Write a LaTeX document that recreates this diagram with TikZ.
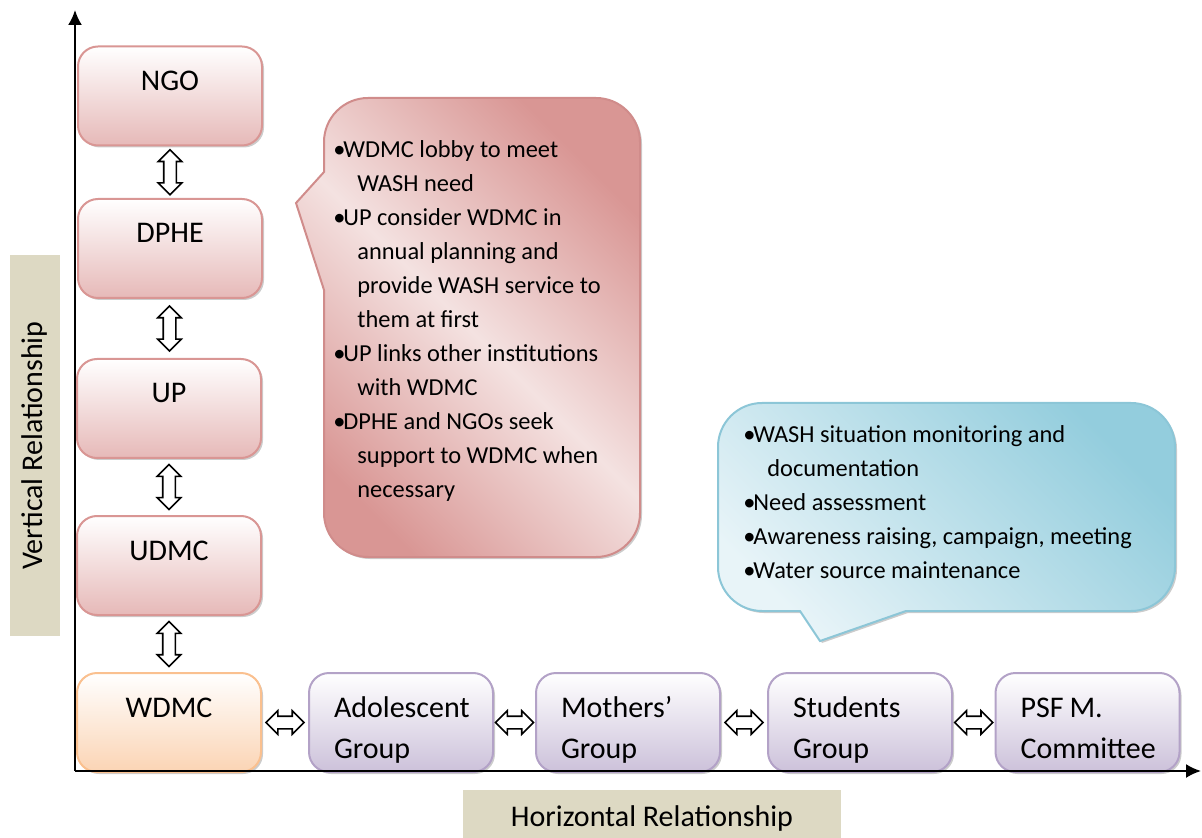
\documentclass[tikz,border=0pt]{standalone}
\usepackage{fontspec}
\setmainfont{Carlito}
\usetikzlibrary{shapes.arrows,shadows,calc,arrows.meta}
\definecolor{orgline}{HTML}{D99694}
\definecolor{orgfill}{HTML}{E6B9B8}
\definecolor{wdmcline}{HTML}{FAC08F}
\definecolor{wdmcfill}{HTML}{FBD4B4}
\definecolor{grpline}{HTML}{B3A2C7}
\definecolor{grpfill}{HTML}{CCC1DA}
\definecolor{callred}{HTML}{D99694}
\definecolor{callpink}{HTML}{F4E2E1}
\definecolor{redline}{HTML}{D08C8B}
\definecolor{callblue}{HTML}{93CDDD}
\definecolor{callpale}{HTML}{E8F4F8}
\definecolor{blueline}{HTML}{8CC6D7}
\definecolor{relfill}{HTML}{DDD9C3}
\tikzstyle{base-box} = [rectangle, rounded corners=10pt, minimum width=92pt,
    minimum height=49.5pt, line width=1pt, inner ysep=0pt,
    text height=22pt, text depth=27.5pt,
    drop shadow={shadow xshift=1pt, shadow yshift=-1pt, opacity=0.4}]
\tikzstyle{org-box} = [base-box, draw=orgline, top color=white,
    bottom color=orgfill, align=center, font=\fontsize{15}{18}\selectfont]
\tikzstyle{wdmc-box} = [org-box, draw=wdmcline, bottom color=wdmcfill]
\tikzstyle{grp-box} = [base-box, draw=grpline, top color=white,
    bottom color=grpfill, align=left, text width=67pt, inner xsep=12.5pt,
    font=\fontsize{15}{20.5}\selectfont]
\tikzstyle{link-arrow} = [double arrow, draw=black, fill=white, line width=0.8pt,
    inner xsep=0pt, inner ysep=2.75pt, double arrow head extend=2.75pt,
    double arrow head indent=0pt]
\tikzstyle{red-call} = [draw=redline, line width=1pt, top color=callred,
    bottom color=callred, middle color=callpink, shading angle=-45,
    drop shadow={shadow xshift=1pt, shadow yshift=-1pt, opacity=0.4}]
\tikzstyle{blue-call} = [draw=blueline, line width=1pt, top color=callblue,
    bottom color=callpale, shading angle=-45,
    drop shadow={shadow xshift=1pt, shadow yshift=-1pt, opacity=0.4}]
\tikzstyle{call-text} = [anchor=north west, align=left, inner sep=0pt,
    font=\fontsize{12.2}{17}\selectfont]
\tikzstyle{rel-label} = [fill=relfill, inner sep=0pt,
    font=\fontsize{15}{18}\selectfont]
\tikzstyle{axis-line} = [line width=1pt, -{Latex[length=7.5pt,width=7pt]}]
\newcommand{\bul}{\makebox[5pt][l]{\textbullet}}
\newcommand{\cont}{\hspace*{12pt}}

\begin{document}
\begin{tikzpicture}[x=0.5pt, y=-0.5pt]
\useasboundingbox (0,0) rectangle (1202,838);

% vertical chain
\node [org-box] (ngo) at (170,96) {NGO};
\node [org-box] (dphe) at (170,248.5) {DPHE};
\node [org-box] (up) at (169,408.5) {UP};
\node [org-box] (udmc) at (169,565.5) {UDMC};
\node [wdmc-box] (wdmc) at (169,722.5) {WDMC};

% horizontal chain
\node [grp-box] (adol) at (401,722.5) {Adolescent\\Group};
\node [grp-box] (moth) at (628,722.5) {Mothers’\\Group};
\node [grp-box] (stud) at (860,722.5) {Students\\Group};
\node [grp-box] (psf) at (1087.5,722.5) {PSF\kern3pt M.\\Committee};

\node [link-arrow, rotate=90, minimum height=22.5pt] (a1) at ($(ngo.south)!0.5!(dphe.north)$) {};
\node [link-arrow, rotate=90, minimum height=22.5pt] (a2) at ($(dphe.south)!0.5!(up.north)$) {};
\node [link-arrow, rotate=90, minimum height=22.5pt] (a3) at ($(up.south)!0.5!(udmc.north)$) {};
\node [link-arrow, rotate=90, minimum height=22.5pt] (a4) at ($(udmc.south)!0.5!(wdmc.north)$) {};
\node [link-arrow, minimum height=19pt] (h1) at ($(wdmc.east)!0.5!(adol.west)$) {};
\node [link-arrow, minimum height=19pt] (h2) at ($(adol.east)!0.5!(moth.west)$) {};
\node [link-arrow, minimum height=19pt] (h3) at ($(moth.east)!0.5!(stud.west)$) {};
\node [link-arrow, minimum height=19pt] (h4) at ($(stud.east)!0.5!(psf.west)$) {};

% callouts
\draw [red-call] (480,98) [rounded corners=22pt] -- (640,98) -- (640,557)
    -- (324,557) -- (324,400) [sharp corners] -- (324,290) -- (296,203)
    -- (324,172) -- (324,150) [rounded corners=22pt] -- (324,98) -- cycle;
\node [call-text] (vnotes) at (333,140) {%
    \bul WDMC lobby to meet\\
    \cont WASH need\\
    \bul UP consider WDMC in\\
    \cont annual planning and\\
    \cont provide WASH service to\\
    \cont them at first\\
    \bul UP links other institutions\\
    \cont with WDMC\\
    \bul DPHE and NGOs seek\\
    \cont support to WDMC when\\
    \cont necessary};

\draw [blue-call] (940,403) [rounded corners=22pt] -- (1175,403) -- (1175,611)
    -- (1000,611) [sharp corners] -- (906,611) -- (820,641) -- (800,611)
    -- (770,611) [rounded corners=22pt] -- (718,611) -- (718,403) -- cycle;
\node [call-text] (hnotes) at (743,425) {%
    \bul WASH situation monitoring and\\
    \cont documentation\\
    \bul Need assessment\\
    \bul Awareness raising, campaign, meeting\\
    \bul Water source maintenance};

% relationship labels
\node [rel-label, rotate=90, minimum width=190.5pt, minimum height=25pt] (vrel) at (35,445.5) {Vertical Relationship};
\node [rel-label, minimum width=189pt, minimum height=28pt] (hrel) at (652,818) {Horizontal Relationship};

% axes
\coordinate (origin) at (75,771);
\coordinate (yend) at (75,10);
\coordinate (xend) at (1201,771);
\draw [axis-line] (origin) -- (yend);
\draw [axis-line] (origin) -- (xend);
\end{tikzpicture}
\end{document}
